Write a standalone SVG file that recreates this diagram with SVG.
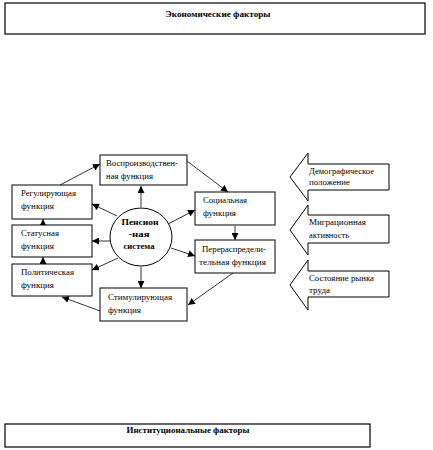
<svg xmlns="http://www.w3.org/2000/svg" width="433" height="450" viewBox="0 0 433 450">
<defs>
<marker id="ah" viewBox="0 0 10 10" refX="10" refY="5" markerWidth="7" markerHeight="7" markerUnits="userSpaceOnUse" orient="auto">
<path d="M0,0 L10,5 L0,10 Z" fill="#000"/>
</marker>
</defs>
<style>
.box{fill:#fff;stroke:#000;stroke-width:1}
.frame{fill:#fff;stroke:#000;stroke-width:1.2}
.t{font-family:"Liberation Serif","Times New Roman",serif;font-size:9px;fill:#000}
.b{font-family:"Liberation Serif","Times New Roman",serif;font-size:9px;font-weight:bold;fill:#000}
.c{fill:none;stroke:#000;stroke-width:0.8;marker-end:url(#ah)}
</style>
<rect width="433" height="450" fill="#fff"/>
<g id="econ">
<rect class="frame" x="5" y="3" width="420" height="31"/>
<text class="b" x="218" y="17" text-anchor="middle" textLength="105" lengthAdjust="spacingAndGlyphs">Экономические факторы</text>
</g>
<g id="inst">
<rect class="frame" x="5" y="424" width="365" height="23"/>
<text class="b" x="188" y="433" text-anchor="middle" textLength="123" lengthAdjust="spacingAndGlyphs">Институциональные факторы</text>
</g>
<g id="connectors">
<line class="c" x1="141" y1="207" x2="141" y2="186"/>
<line class="c" x1="117" y1="216" x2="92" y2="204"/>
<line class="c" x1="110" y1="241" x2="92" y2="241"/>
<line class="c" x1="118" y1="258" x2="92" y2="270"/>
<line class="c" x1="141" y1="267" x2="141" y2="288"/>
<line class="c" x1="168" y1="224" x2="195" y2="210"/>
<line class="c" x1="171" y1="248" x2="195" y2="256"/>
<line class="c" x1="187" y1="161" x2="228" y2="192"/>
<line class="c" x1="235" y1="226" x2="235" y2="240"/>
<line class="c" x1="233" y1="273" x2="188" y2="305"/>
<line class="c" x1="100" y1="311" x2="62" y2="297"/>
<line class="c" x1="60" y1="185" x2="100" y2="164"/>
<line class="c" x1="43" y1="225" x2="43" y2="219"/>
<line class="c" x1="43" y1="264" x2="43" y2="257"/>
</g>
<g id="reprod">
<rect class="box" x="100" y="155" width="87" height="30"/>
<text class="t" x="106" y="166" textLength="72" lengthAdjust="spacingAndGlyphs">Воспроизводствен-</text>
<text class="t" x="106" y="179" textLength="47" lengthAdjust="spacingAndGlyphs">ная функция</text>
</g>
<g id="regul">
<rect class="box" x="12" y="185" width="80" height="34"/>
<text class="t" x="21" y="196" textLength="55" lengthAdjust="spacingAndGlyphs">Регулирующая</text>
<text class="t" x="21" y="209" textLength="33" lengthAdjust="spacingAndGlyphs">функция</text>
</g>
<g id="status">
<rect class="box" x="12" y="225" width="80" height="32"/>
<text class="t" x="21" y="236" textLength="38" lengthAdjust="spacingAndGlyphs">Статусная</text>
<text class="t" x="21" y="249" textLength="33" lengthAdjust="spacingAndGlyphs">функция</text>
</g>
<g id="polit">
<rect class="box" x="12" y="264" width="80" height="32"/>
<text class="t" x="21" y="275" textLength="53" lengthAdjust="spacingAndGlyphs">Политическая</text>
<text class="t" x="21" y="288" textLength="33" lengthAdjust="spacingAndGlyphs">функция</text>
</g>
<g id="pension">
<ellipse class="box" cx="141" cy="237" rx="31" ry="29"/>
<text class="b" x="140" y="225" text-anchor="middle" textLength="37" lengthAdjust="spacingAndGlyphs">Пенсион</text>
<text class="b" x="139" y="237" text-anchor="middle" textLength="21" lengthAdjust="spacingAndGlyphs">-ная</text>
<text class="b" x="139" y="249" text-anchor="middle" textLength="31" lengthAdjust="spacingAndGlyphs">система</text>
</g>
<g id="social">
<rect class="box" x="195" y="192" width="80" height="33"/>
<text class="t" x="203" y="203" textLength="44" lengthAdjust="spacingAndGlyphs">Социальная</text>
<text class="t" x="203" y="216" textLength="33" lengthAdjust="spacingAndGlyphs">функция</text>
</g>
<g id="redistr">
<rect class="box" x="195" y="240" width="80" height="33"/>
<text class="t" x="202" y="252" textLength="64" lengthAdjust="spacingAndGlyphs">Перераспредели-</text>
<text class="t" x="199" y="265" textLength="67" lengthAdjust="spacingAndGlyphs">тельная функция</text>
</g>
<g id="stimul">
<rect class="box" x="100" y="288" width="87" height="33"/>
<text class="t" x="108" y="300" textLength="64" lengthAdjust="spacingAndGlyphs">Стимулирующая</text>
<text class="t" x="108" y="313" textLength="33" lengthAdjust="spacingAndGlyphs">функция</text>
</g>
<g id="demog">
<polygon class="box" points="389,164 308,164 308,153 290,177 308,201 308,190 389,190"/>
<text class="t" x="309" y="174" textLength="65" lengthAdjust="spacingAndGlyphs">Демографическое</text>
<text class="t" x="309" y="185" textLength="41" lengthAdjust="spacingAndGlyphs">положение</text>
</g>
<g id="migr">
<polygon class="box" points="389,215 308,215 308,205 290,230 308,255 308,243 389,243"/>
<text class="t" x="309" y="225" textLength="57" lengthAdjust="spacingAndGlyphs">Миграционная</text>
<text class="t" x="309" y="238" textLength="40" lengthAdjust="spacingAndGlyphs">активность</text>
</g>
<g id="labor">
<polygon class="box" points="389,271 308,271 308,260 290,285 308,310 308,297 389,297"/>
<text class="t" x="309" y="281" textLength="65" lengthAdjust="spacingAndGlyphs">Состояние рынка</text>
<text class="t" x="309" y="293" textLength="21" lengthAdjust="spacingAndGlyphs">труда</text>
</g>
</svg>
